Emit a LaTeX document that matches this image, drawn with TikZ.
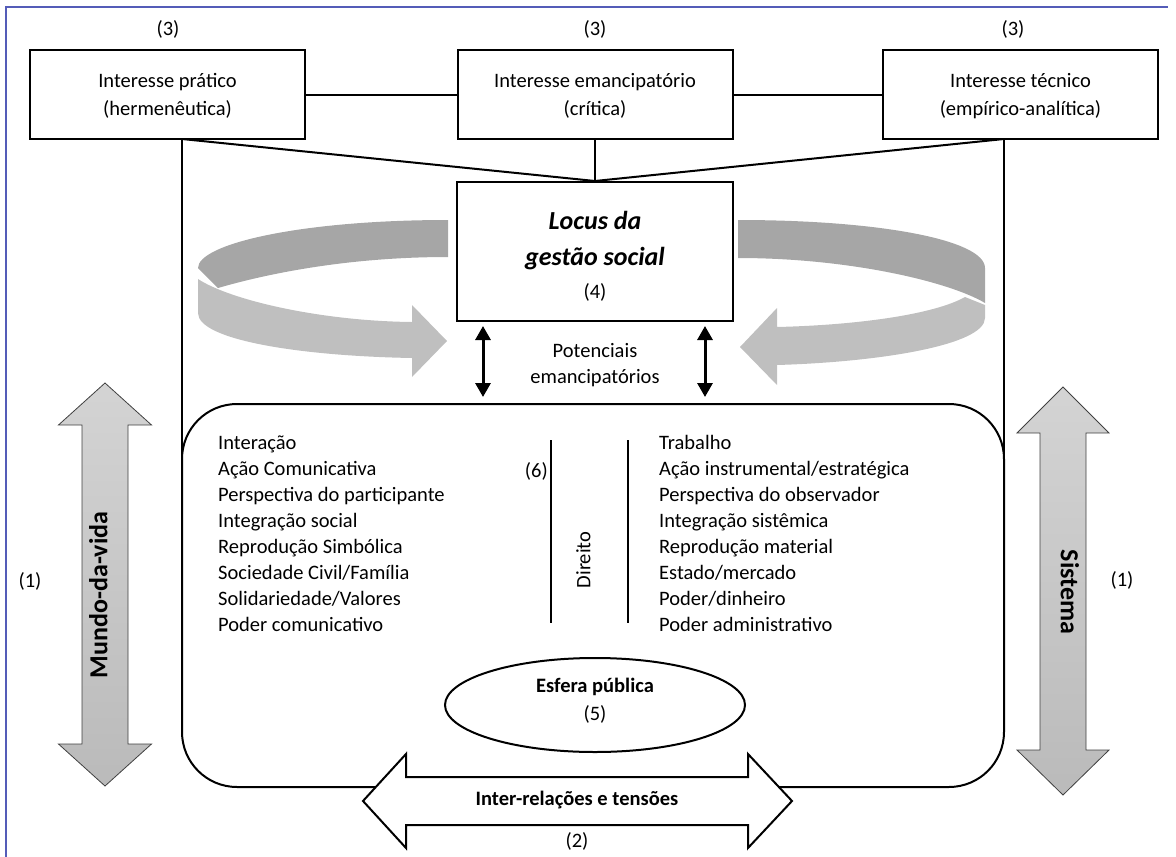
\documentclass[tikz,border=0pt]{standalone}
\usepackage{fontspec}
\setmainfont{Carlito}
\usetikzlibrary{arrows.meta,positioning,shapes.geometric}
\definecolor{framebl}{RGB}{84,92,184}
\definecolor{ringdark}{RGB}{166,166,166}
\definecolor{ringlight}{RGB}{191,191,191}
\tikzstyle{every node}=[font=\fontsize{20.5}{25}\selectfont,inner sep=0pt]
\tikzstyle{txt}=[text height=0.7em,text depth=0.25em]
\tikzstyle{big}=[txt,font=\bfseries\fontsize{26}{30}\selectfont]
\tikzstyle{interest}=[draw,line width=2pt,minimum width=275pt,minimum height=89pt]
\tikzstyle{item}=[txt,anchor=west]
\tikzstyle{link}=[line width=2pt]
\tikzstyle{bigarrow}=[draw=black!75,line width=0.8pt,top color=black!17,bottom color=black!27]
\tikzstyle{dbl}=[line width=3pt,{Triangle[width=15pt,length=14pt]}-{Triangle[width=15pt,length=14pt]}]

\begin{document}
\begin{tikzpicture}[x=1pt,y=-1pt]
  \useasboundingbox (0,0) rectangle (1176,857);
  \draw[framebl,line width=1.5pt] (6,857) -- (6,7) -- (1168,7);

  % interesses
  \foreach \nm/\cx/\nx/\la/\lb in {prat/167.5/168/Interesse prático/(hermenêutica),
      emanc/595/595/Interesse emancipatório/(crítica),
      tec/1020.5/1013/Interesse técnico/(empírico-analítica)}{
    \node[interest] (\nm) at (\cx,94.5) {};
    \node[txt] (\nm-a) at (\cx,85) {\la};
    \node[txt] (\nm-b) at (\cx,113) {\lb};
    \node[txt] (\nm-n) at (\nx,33) {(3)};
  }

  \node[draw,line width=2pt,minimum width=276pt,minimum height=139pt] (locus) at (595,251.5) {};
  \node[big,font=\bfseries\itshape\fontsize{26}{30}\selectfont] (locus-a) at (595,227) {Locus da};
  \node[big,font=\bfseries\itshape\fontsize{26}{30}\selectfont] (locus-b) at (595,263) {gestão social};
  \node[txt] (locus-n) at (595,296) {(4)};

  \node[draw,line width=2pt,rounded corners=55pt,minimum width=822pt,minimum height=383pt] (campo) at (593,595.5) {};

  \coordinate (lb) at (182,139);
  \coordinate (rb) at (1004,139);
  \draw[link] (prat.east) -- (emanc.west);
  \draw[link] (emanc.east) -- (tec.west);
  \draw[link] (lb) -- (locus.north) -- (rb);
  \draw[link] (emanc.south) -- (locus.north);
  \draw[link] (lb) -- (lb |- campo.west);
  \draw[link] (rb) -- (rb |- campo.east);

  % setas circulares
  \fill[ringdark] (448,220) .. controls (300,220) and (198,244) .. (198,268) -- (218,288)
    .. controls (280,270) and (360,257) .. (448,257) -- cycle;
  \fill[ringlight] (198,279) .. controls (230,300) and (320,321) .. (412,322) -- (412,305)
    -- (447,341) -- (412,377) -- (412,358) .. controls (300,356) and (198,340) .. (198,313) -- cycle;
  \fill[ringdark] (738,220) .. controls (880,220) and (985,240) .. (985,268) -- (985,303)
    .. controls (950,282) and (850,258) .. (738,258) -- cycle;
  \fill[ringlight] (965,297) -- (985,305) -- (985,318) .. controls (985,345) and (880,362) .. (777,365)
    -- (777,385) -- (740,347) -- (777,308) -- (777,327) .. controls (860,325) and (935,314) .. (965,297) -- cycle;

  \coordinate (pa1) at (483,326);
  \coordinate (pa2) at (483,397);
  \coordinate (pb1) at (705,326);
  \coordinate (pb2) at (705,397);
  \draw[dbl] (pa1) -- (pa2);
  \draw[dbl] (pb1) -- (pb2);
  \node[txt] (pot-a) at (595,355) {Potenciais};
  \node[txt] (pot-b) at (595,381) {emancipatórios};

  % colunas
  \foreach \t [count=\i from 0] in {Interação,Ação Comunicativa,Perspectiva do participante,
      Integração social,Reprodução Simbólica,Sociedade Civil/Família,Solidariedade/Valores,Poder comunicativo}
    \node[item] (mv\i) at (218,447+26*\i) {\t};
  \foreach \t [count=\i from 0] in {Trabalho,Ação instrumental/estratégica,Perspectiva do observador,
      Integração sistêmica,Reprodução material,Estado/mercado,Poder/dinheiro,Poder administrativo}
    \node[item] (si\i) at (659,447+26.1*\i) {\t};

  \draw[link] (551,440) -- (551,623);
  \draw[link] (628,440) -- (628,623);
  \node[txt,anchor=east] (dir-n) at (548,475) {(6)};
  \node[txt,rotate=90] (dir) at (588,560) {Direito};

  \node[draw,ellipse,line width=2pt,minimum width=300pt,minimum height=94pt] (esfera) at (595,705) {};
  \node[txt,font=\bfseries\fontsize{20.5}{25}\selectfont] (esfera-a) at (595,690) {Esfera pública};
  \node[txt] (esfera-n) at (595,718) {(5)};

  % setas laterais
  \draw[bigarrow] (105,383) -- (151.5,425) -- (128,425) -- (128,744) -- (151.5,744) -- (105,786)
    -- (58.5,744) -- (82,744) -- (82,425) -- (58.5,425) -- cycle;
  \node[big,rotate=90] (mundo) at (105,595) {Mundo-da-vida};
  \node[txt] (mundo-n) at (30,585) {(1)};
  \draw[bigarrow] (1063,387) -- (1109,433) -- (1086,433) -- (1086,750) -- (1109,750) -- (1063,795)
    -- (1017,750) -- (1040,750) -- (1040,433) -- (1017,433) -- cycle;
  \node[big,rotate=-90] (sist) at (1063,592) {Sistema};
  \node[txt] (sist-n) at (1122,584) {(1)};

  % seta inferior
  \draw[fill=white,line width=2pt,line join=miter] (363,801) -- (406,754) -- (406,777) -- (748,777) -- (748,754)
    -- (792,801) -- (748,848) -- (748,825) -- (406,825) -- (406,848) -- cycle;
  \node[txt,font=\bfseries\fontsize{20.5}{25}\selectfont] (inter) at (577,803) {Inter-relações e tensões};
  \node[txt] (inter-n) at (577,845) {(2)};
\end{tikzpicture}
\end{document}
